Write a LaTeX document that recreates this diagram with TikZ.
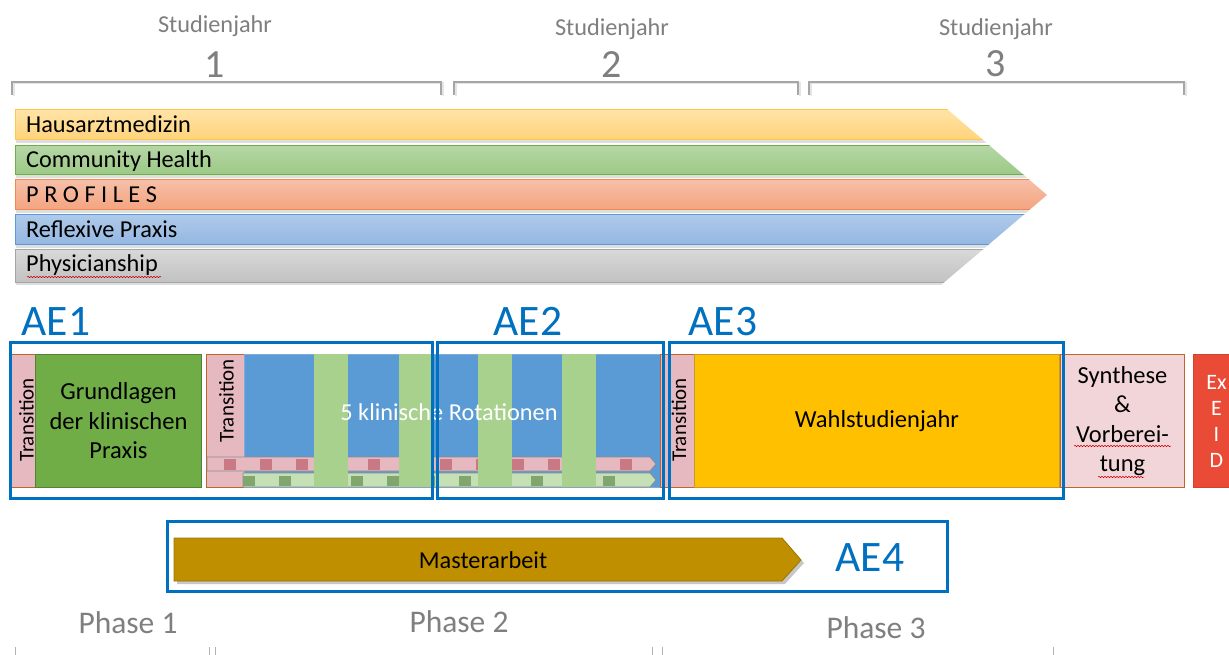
\documentclass[tikz,border=0pt]{standalone}
\usepackage{fontspec}
\setmainfont{Carlito}
\usetikzlibrary{decorations.pathmorphing}
\newcommand\myfs[2]{\fontsize{#1}{#2}\selectfont}
\definecolor{txtgray}{HTML}{7F7F7F}
\definecolor{brgray}{HTML}{A6A6A6}
\definecolor{aeblue}{HTML}{0070C0}
\definecolor{yelT}{HTML}{FFE3A6}\definecolor{yelB}{HTML}{FFD37A}\definecolor{yelL}{HTML}{FFC847}
\definecolor{grnT}{HTML}{B4D6A4}\definecolor{grnB}{HTML}{9CC986}\definecolor{grnL}{HTML}{70AD47}
\definecolor{orgT}{HTML}{F6BFA8}\definecolor{orgB}{HTML}{F4A47F}\definecolor{orgL}{HTML}{F0894F}
\definecolor{bluT}{HTML}{AFCAE9}\definecolor{bluB}{HTML}{93B6E2}\definecolor{bluL}{HTML}{5B9BD5}
\definecolor{gryT}{HTML}{D8D8D8}\definecolor{gryB}{HTML}{C2C2C2}\definecolor{gryL}{HTML}{A5A5A5}
\definecolor{transpink}{HTML}{E6B9C0}
\definecolor{transbrd}{HTML}{C0652A}
\definecolor{grund}{HTML}{70AD47}
\definecolor{grundbrd}{HTML}{548235}
\definecolor{rotblue}{HTML}{5B9BD5}
\definecolor{rotbrd}{HTML}{7FAADB}
\definecolor{stripegrn}{HTML}{A9D18E}
\definecolor{pinkbar}{HTML}{E6B9C0}
\definecolor{pinksq}{HTML}{C97884}
\definecolor{greenbar}{HTML}{C5E0B4}
\definecolor{greensq}{HTML}{80A66D}
\definecolor{wahl}{HTML}{FFC000}
\definecolor{wahlbrd}{HTML}{C49A2A}
\definecolor{synpink}{HTML}{F2D5D9}
\definecolor{exred}{HTML}{E94B36}
\definecolor{exbrd}{HTML}{CF4430}
\definecolor{masterc}{HTML}{BF8F00}
\definecolor{masterbrd}{HTML}{9C7500}
\begin{document}
\begin{tikzpicture}[x=1pt,y=-1pt,
  yeartxt/.style={text=txtgray, font=\myfs{24.3}{29}, inner sep=0pt, anchor=base},
  yearnum/.style={text=txtgray, font=\myfs{40}{48}, inner sep=0pt, anchor=base},
  bartxt/.style={font=\myfs{24.3}{29}, inner sep=0pt, anchor=base west},
  aetxt/.style={text=aeblue, font=\myfs{43.5}{50}, inner sep=0pt, anchor=base},
  aeframe/.style={draw=aeblue, line width=3pt},
  bracketline/.style={draw=brgray, line width=1.5pt},
  brshadow/.style={draw=black!10, line width=2pt},
  mybox/.style={anchor=north west, inner sep=0pt, minimum height=133pt, align=center, font=\myfs{24.5}{29.5}, line width=1pt},
  tbox/.style={mybox, fill=transpink, draw=transbrd, line width=1.3pt},
  transtxt/.style={rotate=90, font=\myfs{21}{25}, inner sep=0pt},
  phasetxt/.style={text=txtgray, font=\myfs{31.5}{36}, inner sep=0pt, anchor=base},
  plaintxt/.style={font=\myfs{24.3}{29}, inner sep=0pt, anchor=base},
  spell/.style={draw=red!80!black, line width=0.5pt, decorate, decoration={snake, amplitude=0.7pt, segment length=3pt}},
  tickmark/.style={draw=black!30, line width=0.8pt},
  barrow/.style={draw=black!45, line width=0.8pt}
]
\useasboundingbox (0,0) rectangle (1229,655);
\clip (0,0) rectangle (1229,655);
\fill[white] (0,0) rectangle (1229,655);

% year headings
\node[yeartxt] (sj1) at (215,33) {Studienjahr};
\node[yearnum] (n1) at (215,78) {1};
\node[yeartxt] (sj2) at (612,36) {Studienjahr};
\node[yearnum] (n2) at (612,78) {2};
\node[yeartxt] (sj3) at (996,36) {Studienjahr};
\node[yearnum] (n3) at (996,77) {3};

% brackets
\foreach \a/\b in {12/441, 454/798, 809/1184} {
  \draw[brshadow] (\a+1.5,96.5) -- (\a+1.5,83.5) -- (\b+1.5,83.5) -- (\b+1.5,96.5);
  \draw[bracketline] (\a,95) -- (\a,82) -- (\b,82) -- (\b,95);
}

% big arrow made of five bars
\begin{scope}
  \clip (14,109) -- (947,109) -- (1047,195) -- (941,285) -- (14,285) -- cycle;
  \foreach \ya/\yb/\cc in {110/140/yel, 146/175/grn, 180/210/org, 215/245/blu, 250/282/gry} {
    \fill[black!13] (16,\yb) rectangle (1100,\yb+3);
    \shade[top color=\cc T, bottom color=\cc B] (15,\ya) rectangle (1100,\yb);
    \draw[\cc L, line width=1pt] (1100,\ya) -- (15,\ya) -- (15,\yb) -- (1100,\yb);
  }
\end{scope}
\node[bartxt] (hz) at (26,133) {Hausarztmedizin};
\node[bartxt] (ch) at (26,168) {Community Health};
\node[bartxt] (pf) at (26,203) {P R O F I L E S};
\node[bartxt] (rp) at (26,237) {Reflexive Praxis};
\node[bartxt] (ph) at (26,272) {Physicianship};
\draw[spell] (27,277) -- (161,277);

% AE labels
\node[aetxt] (ae1) at (56,335) {AE1};
\node[aetxt] (ae2) at (528,335) {AE2};
\node[aetxt] (ae3) at (723,335) {AE3};

% main row
\node[tbox, minimum width=34pt] (tr1) at (9,354) {};
\node[mybox, fill=grund, draw=grundbrd, minimum width=166pt] (grund) at (35,354) {Grundlagen\\der klinischen\\Praxis};
\node[tbox, minimum width=38pt] (tr2) at (206,354) {};
\node[mybox, fill=rotblue, draw=rotbrd, minimum width=416pt] (rot) at (244,354) {};
% pink track
\filldraw[barrow, fill=pinkbar] (207,457) -- (650,457) -- (656,464) -- (650,471) -- (207,471) -- cycle;
\foreach \k in {0,...,11} \fill[pinksq] (224+36*\k,458.5) rectangle (236+36*\k,469.5);
% green track
\filldraw[barrow, fill=greenbar] (243,473) -- (650,473) -- (656,480) -- (650,487) -- (243,487) -- cycle;
\foreach \k in {0,...,10} \fill[greensq] (243+36*\k,475.5) rectangle (255+36*\k,485.5);
% vertical green stripes
\foreach \x in {314,399,478,562} \fill[stripegrn] (\x,354) rectangle (\x+34,487);
\node[plaintxt, text=white] (rottxt) at (449,420) {5 klinische Rotationen};
\node[tbox, minimum width=34pt] (tr3) at (660,354) {};
\node[mybox, fill=wahl, draw=wahlbrd, minimum width=365pt] (wahl) at (694,354) {Wahlstudienjahr};
\node[mybox, fill=synpink, draw=transbrd, minimum width=124pt] (syn) at (1060,354) {Synthese\\\&\\Vorberei-\\tung};
\node[mybox, fill=exred, draw=exbrd, minimum width=46pt, text=white, font=\myfs{22}{26}] (ex) at (1193,354) {Ex\\E\\I\\D};
\draw[spell] (1074,446) -- (1171,446);
\draw[spell] (1098,477) -- (1144,477);
\node[transtxt] (tt1) at (26.5,420) {Transition};
\node[transtxt] (tt2) at (226.5,401) {Transition};
\node[transtxt] (tt3) at (679,420) {Transition};

% AE frames
\draw[aeframe] (10,342) rectangle (432,498);
\draw[aeframe] (437,342) rectangle (663,498);
\draw[aeframe] (669,342) rectangle (1063,498);

% Masterarbeit
\draw[aeframe] (167,521) rectangle (947,591);
\fill[black!22] (177,541) -- (785,541) -- (804,563) -- (785,584) -- (177,584) -- cycle;
\filldraw[fill=masterc, draw=masterbrd, line width=0.8pt] (174,538) -- (782,538) -- (801,560) -- (782,581) -- (174,581) -- cycle;
\node[plaintxt] (mtxt) at (483,568) {Masterarbeit};
\node[aetxt] (ae4) at (870,571) {AE4};

% phases
\node[phasetxt] (p1) at (128,633) {Phase 1};
\node[phasetxt] (p2) at (459,632) {Phase 2};
\node[phasetxt] (p3) at (876,638) {Phase 3};
\foreach \x in {15,209,215,652,662,1053} \draw[tickmark] (\x,647) -- (\x,655);
\end{tikzpicture}
\end{document}
